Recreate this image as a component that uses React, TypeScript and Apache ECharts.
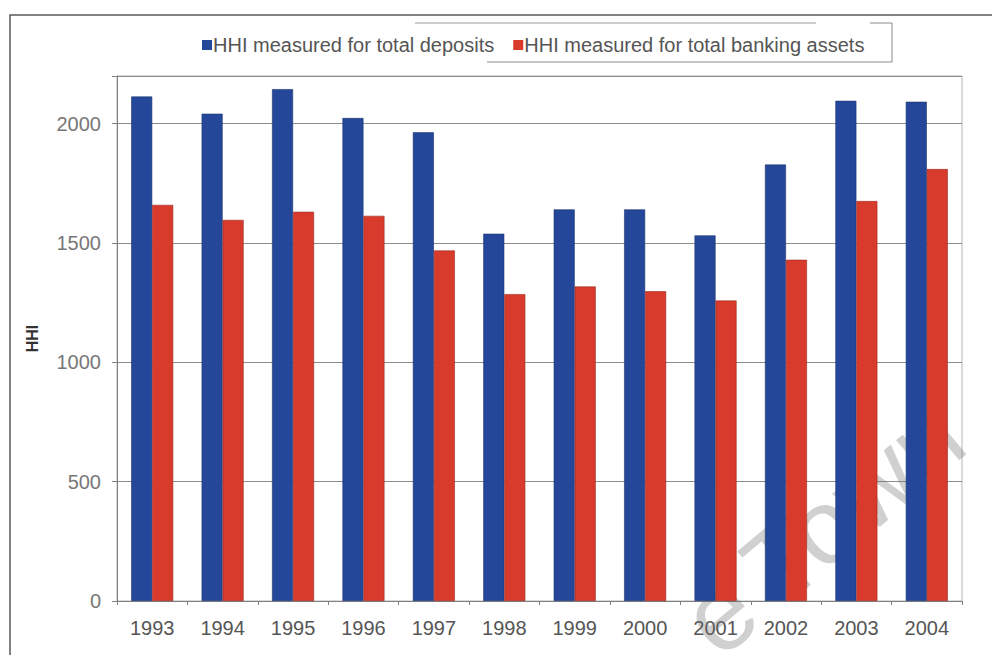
import React, { useEffect, useRef } from "react";
import * as echarts from "echarts";

// Years on the category axis
const years = ["1993", "1994", "1995", "1996", "1997", "1998", "1999", "2000", "2001", "2002", "2003", "2004"];

// Herfindahl-Hirschman Index by year
const hhiDeposits = [2114, 2042, 2145, 2024, 1964, 1539, 1641, 1641, 1532, 1829, 2096, 2092];
const hhiAssets = [1660, 1597, 1631, 1614, 1469, 1286, 1318, 1298, 1259, 1430, 1676, 1810];

const seriesNames = ["HHI measured for total deposits", "HHI measured for total banking assets"];
const yTickStep = 500;

const BLUE = "#24479a";
const RED = "#d83a2c";
const FONT = "'Liberation Sans', Arial, sans-serif";

const WM_ANGLE = (40 * Math.PI) / 180;
const WM_SIZE = 106;

export default function App() {
  const ref = useRef<HTMLDivElement>(null);

  useEffect(() => {
    if (!ref.current) return;
    const chart = echarts.init(ref.current, null, { renderer: "svg" });

    // watermark words placed along a rising diagonal
    const townX = 982;
    const townY = 462;
    const shift = WM_SIZE * (2.445 + 0.1);
    const eX = townX - shift * Math.cos(WM_ANGLE);
    const eY = townY + shift * Math.sin(WM_ANGLE);
    const wmStyle = {
      fontSize: WM_SIZE,
      fontFamily: FONT,
      fill: "rgba(110,110,110,0.32)",
      align: "right",
      verticalAlign: "bottom",
    };

    chart.setOption({
      animation: false,
      backgroundColor: "#ffffff",
      textStyle: { fontFamily: FONT },
      graphic: [
        // outer frame
        {
          type: "rect",
          z: 0,
          shape: { x: 10, y: 15, width: 1000, height: 700 },
          style: { fill: "none", stroke: "#5a5a5a", lineWidth: 1.5 },
          silent: true,
        },
        // legend frame pieces
        {
          type: "polyline",
          z: 0,
          shape: { points: [[415, 23], [816, 23]] },
          style: { stroke: "#9a9a9a", lineWidth: 1, fill: "none" },
        },
        {
          type: "polyline",
          z: 0,
          shape: { points: [[487, 62], [892, 62], [892, 23], [870, 23]] },
          style: { stroke: "#8a8a8a", lineWidth: 1, fill: "none" },
        },
        // watermark
        {
          type: "text",
          z: 1,
          x: townX,
          y: townY,
          rotation: WM_ANGLE,
          silent: true,
          style: { text: "Town", ...wmStyle },
        },
        {
          type: "text",
          z: 1,
          x: eX,
          y: eY,
          rotation: WM_ANGLE,
          silent: true,
          style: { text: "e", ...wmStyle },
        },
      ],
      legend: {
        left: 197,
        top: 30,
        itemWidth: 10,
        itemHeight: 10,
        itemGap: 19,
        itemStyle: { borderWidth: 0 },
        textStyle: { fontSize: 20, color: "#555", fontFamily: FONT, padding: [0, 0, 0, -4] },
        data: seriesNames.map((n) => ({ name: n, icon: "rect" })),
      },
      grid: {
        left: 117,
        right: 30,
        top: 76,
        bottom: 54,
        show: true,
        borderColor: "#b4b4b4",
        borderWidth: 1,
      },
      xAxis: {
        type: "category",
        data: years,
        axisLine: { lineStyle: { color: "#808080", width: 1 } },
        axisTick: { show: true, length: 4, lineStyle: { color: "#808080" } },
        axisLabel: { fontSize: 20, color: "#555", margin: 17, fontFamily: FONT },
      },
      yAxis: {
        type: "value",
        min: 0,
        max: 2200,
        interval: yTickStep,
        name: "HHI",
        nameLocation: "middle",
        nameGap: 77,
        nameTextStyle: { fontSize: 16, fontWeight: "bold", color: "#333", fontFamily: FONT },
        axisLine: { show: true, lineStyle: { color: "#808080", width: 1 } },
        axisTick: { show: true, length: 5, lineStyle: { color: "#808080" } },
        axisLabel: {
          fontSize: 20,
          color: "#777",
          margin: 16,
          fontFamily: FONT,
          formatter: (v: number) => (v % yTickStep === 0 ? String(v) : ""),
        },
        splitLine: { show: true, lineStyle: { color: "#8c8c8c", width: 1 } },
      },
      series: [
        {
          name: seriesNames[0],
          type: "bar",
          data: hhiDeposits,
          barWidth: 21,
          barGap: "0%",
          itemStyle: { color: BLUE, borderColor: "#1b3470", borderWidth: 0.6 },
        },
        {
          name: seriesNames[1],
          type: "bar",
          data: hhiAssets,
          barWidth: 21,
          barGap: "0%",
          itemStyle: { color: RED, borderColor: "#9a2a20", borderWidth: 0.6 },
        },
      ],
    });
    return () => chart.dispose();
  }, []);

  return <div ref={ref} style={{ width: 992, height: 655, position: "absolute", left: 0, top: 0 }} />;
}
